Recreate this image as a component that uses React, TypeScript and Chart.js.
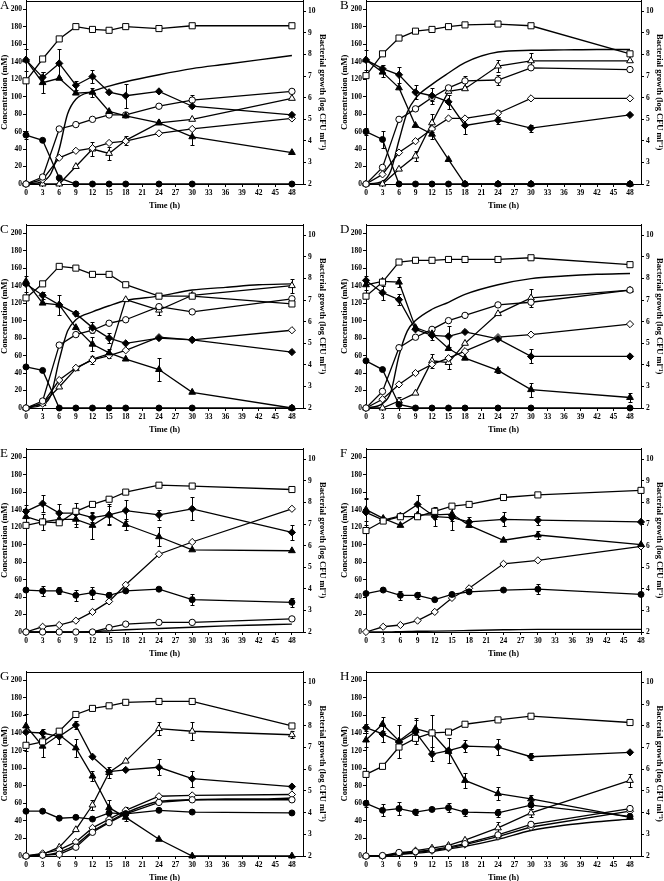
import React, { useEffect, useRef } from "react";
import { Chart, registerables } from "chart.js";
Chart.register(...registerables);

const FONT = "'Liberation Serif', 'Times New Roman', serif";

const TIME = [0, 3, 6, 9, 12, 15, 18, 24, 30, 48];
const FIT_TIME = [0, 3, 4.5, 6, 7.5, 9, 12, 15, 18, 24, 30, 36, 42, 48];
const X_TICKS = [0, 3, 6, 9, 12, 15, 18, 21, 24, 27, 30, 33, 36, 39, 42, 45, 48];
const CONC_TICKS = [0, 20, 40, 60, 80, 100, 120, 140, 160, 180, 200];
const LOG_TICKS = [2, 3, 4, 5, 6, 7, 8, 9, 10];

// ---- Panel A ----
const A_GROWTH = [6.78, 7.79, 8.72, 9.29, 9.16, 9.12, 9.29, 9.2, 9.33, 9.33];
const A_FD = [142, 122, 138, 113, 123, 105, 101, 106, 89, 79];
const A_FD_ERR = [13, 6, 16, 5, 7, 0, 14, 0, 0, 0];
const A_FT = [142, 116, 121, 104, 105, 83, 78, 70, 54, 36];
const A_FT_ERR = [0, 12, 0, 0, 5, 0, 0, 0, 9, 0];
const A_FC = [56, 50, 7, 0, 0, 0, 0, 0, 0, 0];
const A_FC_ERR = [5, 0, 0, 0, 0, 0, 0, 0, 0, 0];
const A_OC = [0, 8, 63, 68, 74, 79, 79, 89, 96, 106];
const A_OC_ERR = [0, 0, 0, 0, 0, 0, 0, 0, 6, 0];
const A_OD = [0, 5, 30, 38, 41, 47, 49, 58, 63, 75];
const A_OT = [0, 0, 0, 20, 40, 35, 50, 70, 74, 98];
const A_OT_ERR = [0, 0, 0, 0, 8, 7, 5, 0, 0, 0];
const A_FIT = [0, 3, 12, 40, 80, 97, 106, 112, 117, 125, 132, 137, 142, 147];

// ---- Panel B ----
const B_GROWTH = [7.02, 8.03, 8.76, 9.08, 9.16, 9.29, 9.37, 9.41, 9.33, 8.03];
const B_FD = [142, 132, 125, 105, 101, 94, 67, 73, 64, 79];
const B_FD_ERR = [11, 4, 9, 8, 9, 8, 10, 4, 4, 0];
const B_FT = [142, 128, 110, 67, 57, 28, 0, 0, 0, 0];
const B_FT_ERR = [0, 5, 0, 0, 6, 0, 0, 0, 0, 0];
const B_FC = [60, 51, 0, 0, 0, 0, 0, 0, 0, 0];
const B_FC_ERR = [4, 10, 0, 0, 0, 0, 0, 0, 0, 0];
const B_OC = [0, 19, 74, 86, 99, 110, 118, 119, 133, 131];
const B_OC_ERR = [0, 0, 0, 0, 4, 0, 6, 6, 0, 0];
const B_OD = [0, 11, 36, 49, 63, 75, 75, 81, 98, 98];
const B_OD_ERR = [0, 0, 0, 0, 0, 0, 0, 4, 0, 0];
const B_OT = [0, 0, 17, 32, 70, 106, 109, 135, 141, 141];
const B_OT_ERR = [0, 0, 0, 6, 10, 0, 0, 7, 9, 0];
const B_FIT = [0, 3, 15, 50, 82, 98, 114, 127, 139, 151, 153, 153.5, 154, 154];

// ---- Panel C ----
const C_GROWTH = [7.1, 7.75, 8.56, 8.48, 8.19, 8.19, 7.71, 7.18, 7.18, 6.82];
const C_FD = [142, 129, 118, 108, 92, 80, 74, 80, 78, 64];
const C_FD_ERR = [9, 4, 11, 3, 6, 6, 0, 0, 0, 0];
const C_FT = [145, 120, 118, 92, 73, 63, 56, 44, 18, 0];
const C_FT_ERR = [0, 0, 0, 0, 8, 0, 0, 13, 0, 0];
const C_FC = [47, 43, 0, 0, 0, 0, 0, 0, 0, 0];
const C_OC = [0, 8, 72, 84, 89, 97, 101, 116, 110, 125];
const C_OD = [0, 5, 32, 46, 55, 60, 66, 81, 78, 89];
const C_OD_ERR = [0, 0, 0, 0, 5, 0, 0, 0, 0, 0];
const C_OT = [0, 5, 24, 45, 56, 62, 124, 112, 129, 140];
const C_OT_ERR = [0, 0, 0, 0, 0, 5, 0, 5, 0, 8];
const C_FIT = [0, 4, 15, 55, 88, 101, 110, 117, 123, 128, 135, 138, 141, 142];

// ---- Panel D ----
const D_GROWTH = [7.18, 7.83, 8.76, 8.84, 8.84, 8.88, 8.88, 8.88, 8.96, 8.64];
const D_FD = [146, 132, 124, 90, 83, 82, 87, 79, 59, 59];
const D_FD_ERR = [5, 8, 6, 0, 5, 12, 0, 0, 8, 0];
const D_FT = [141, 145, 144, 92, 85, 68, 57, 43, 21, 12];
const D_FT_ERR = [6, 0, 6, 0, 0, 0, 0, 3, 8, 5];
const D_FC = [54, 44, 4, 0, 0, 0, 0, 0, 0, 0];
const D_OC = [0, 19, 69, 81, 90, 100, 106, 118, 121, 135];
const D_OD = [0, 10, 27, 40, 50, 57, 65, 81, 84, 96];
const D_OT = [0, 0, 8, 17, 54, 52, 74, 108, 126, 135];
const D_OT_ERR = [0, 0, 5, 0, 8, 7, 0, 0, 10, 0];
const D_FIT = [0, 5, 18, 60, 88, 100, 113, 121, 130, 141, 148, 151, 153, 154];

// ---- Panel E ----
const E_GROWTH = [6.94, 7.1, 7.06, 7.59, 7.91, 8.15, 8.48, 8.8, 8.76, 8.6];
const E_FD = [138, 147, 136, 136, 131, 134, 139, 134, 141, 114];
const E_FD_ERR = [7, 10, 10, 12, 5, 10, 12, 6, 13, 9];
const E_FT = [132, 126, 129, 129, 122, 134, 123, 109, 94, 93];
const E_FT_ERR = [6, 9, 0, 9, 15, 12, 6, 11, 0, 0];
const E_FC = [48, 47, 47, 42, 45, 42, 47, 49, 37, 34];
const E_FC_ERR = [0, 6, 4, 6, 7, 4, 0, 0, 6, 5];
const E_OC = [0, 0, 0, 0, 0, 5, 9, 11, 11, 15];
const E_OD = [0, 6, 8, 13, 23, 35, 54, 89, 103, 141];
const E_FIT = [0, 0, 0, 0, 0, 0, 0.5, 1.5, 2.5, 4, 5.5, 7, 8, 9];

// ---- Panel F ----
const F_GROWTH = [6.7, 7.14, 7.34, 7.34, 7.59, 7.83, 7.91, 8.23, 8.35, 8.56];
const F_FD = [137, 128, 133, 146, 132, 131, 126, 129, 128, 126];
const F_FD_ERR = [15, 3, 3, 11, 11, 14, 6, 8, 5, 0];
const F_FT = [140, 130, 122, 134, 134, 135, 122, 105, 111, 100];
const F_FT_ERR = [13, 0, 0, 0, 5, 8, 0, 0, 5, 0];
const F_FC = [44, 48, 42, 42, 37, 43, 46, 48, 49, 43];
const F_FC_ERR = [0, 0, 5, 4, 0, 0, 0, 0, 6, 0];
const F_OD = [0, 6, 8, 13, 23, 39, 50, 78, 82, 98];
const F_FIT = [0, 0, 0.2, 0.4, 0.6, 0.8, 1, 1.3, 1.7, 2.5, 3, 3, 3, 3];

// ---- Panel G ----
const G_GROWTH = [7.1, 7.26, 7.75, 8.52, 8.8, 8.92, 9.08, 9.12, 9.12, 7.99];
const G_FD = [141, 140, 136, 149, 113, 96, 98, 101, 88, 79];
const G_FD_ERR = [21, 5, 9, 5, 0, 0, 0, 9, 9, 0];
const G_FT = [148, 125, 138, 123, 91, 55, 44, 19, 0, 0];
const G_FT_ERR = [0, 12, 0, 10, 6, 9, 0, 0, 0, 0];
const G_FC = [51, 51, 43, 44, 42, 49, 48, 52, 50, 49];
const G_OC = [0, 1, 2, 10, 27, 38, 48, 61, 64, 64];
const G_OC_ERR = [0, 0, 0, 0, 0, 0, 8, 0, 0, 0];
const G_OD = [0, 3, 7, 16, 32, 42, 52, 68, 69, 70];
const G_OT = [0, 2, 10, 30, 58, 95, 108, 145, 142, 138];
const G_OT_ERR = [0, 0, 0, 0, 6, 6, 0, 7, 10, 4];
const G_FIT = [0, 1, 2, 4, 8, 13, 28, 39, 49, 62, 64, 65, 65, 66];

// ---- Panel H ----
const H_GROWTH = [5.76, 6.13, 7.02, 7.42, 7.67, 7.71, 8.07, 8.27, 8.44, 8.15];
const H_FD = [146, 139, 130, 141, 116, 120, 125, 124, 113, 118];
const H_FD_ERR = [4, 9, 19, 14, 8, 14, 7, 9, 4, 0];
const H_FT = [132, 150, 131, 145, 140, 119, 86, 71, 65, 44];
const H_FT_ERR = [8, 8, 0, 12, 20, 0, 9, 7, 4, 0];
const H_FC = [60, 52, 54, 50, 53, 55, 50, 49, 58, 45];
const H_FC_ERR = [4, 7, 7, 3, 0, 5, 4, 5, 5, 0];
const H_OC = [0, 0.5, 4, 5, 7, 10, 14, 24, 36, 54];
const H_OD = [0, 0, 3, 4, 6, 9, 13, 22, 33, 51];
const H_OT = [0, 0, 2, 6, 9, 12, 18, 32, 49, 86];
const H_OT_ERR = [0, 0, 0, 0, 0, 0, 0, 7, 5, 7];
const H_FIT = [0, 0, 1, 2, 2.5, 3, 5, 8, 11, 19, 29, 35, 39, 42];

// layout (page pixels of each plot frame)
const LEFT_COL = { L: 26, R: 303, rw: 24 };
const RIGHT_COL = { L: 366, R: 641, rw: 23 };
const ROWS = [
  { T: 0, B: 184 },
  { T: 224, B: 408 },
  { T: 448, B: 632 },
  { T: 671, B: 856 },
];

type PanelDef = {
  letter: string;
  col: typeof LEFT_COL;
  row: { T: number; B: number };
  xMax: number;
  growth: number[];
  fd?: number[]; fdErr?: number[];
  ft?: number[]; ftErr?: number[];
  fc?: number[]; fcErr?: number[];
  oc?: number[]; ocErr?: number[];
  od?: number[]; odErr?: number[];
  ot?: number[]; otErr?: number[];
  fit: number[];
};

const PANELS: PanelDef[] = [
  { letter: "A", col: LEFT_COL, row: ROWS[0], xMax: 50, growth: A_GROWTH, fd: A_FD, fdErr: A_FD_ERR, ft: A_FT, ftErr: A_FT_ERR, fc: A_FC, fcErr: A_FC_ERR, oc: A_OC, ocErr: A_OC_ERR, od: A_OD, ot: A_OT, otErr: A_OT_ERR, fit: A_FIT },
  { letter: "B", col: RIGHT_COL, row: ROWS[0], xMax: 50, growth: B_GROWTH, fd: B_FD, fdErr: B_FD_ERR, ft: B_FT, ftErr: B_FT_ERR, fc: B_FC, fcErr: B_FC_ERR, oc: B_OC, ocErr: B_OC_ERR, od: B_OD, odErr: B_OD_ERR, ot: B_OT, otErr: B_OT_ERR, fit: B_FIT },
  { letter: "C", col: LEFT_COL, row: ROWS[1], xMax: 50, growth: C_GROWTH, fd: C_FD, fdErr: C_FD_ERR, ft: C_FT, ftErr: C_FT_ERR, fc: C_FC, oc: C_OC, od: C_OD, odErr: C_OD_ERR, ot: C_OT, otErr: C_OT_ERR, fit: C_FIT },
  { letter: "D", col: RIGHT_COL, row: ROWS[1], xMax: 50, growth: D_GROWTH, fd: D_FD, fdErr: D_FD_ERR, ft: D_FT, ftErr: D_FT_ERR, fc: D_FC, oc: D_OC, od: D_OD, ot: D_OT, otErr: D_OT_ERR, fit: D_FIT },
  { letter: "E", col: LEFT_COL, row: ROWS[2], xMax: 50, growth: E_GROWTH, fd: E_FD, fdErr: E_FD_ERR, ft: E_FT, ftErr: E_FT_ERR, fc: E_FC, fcErr: E_FC_ERR, oc: E_OC, od: E_OD, fit: E_FIT },
  { letter: "F", col: RIGHT_COL, row: ROWS[2], xMax: 48, growth: F_GROWTH, fd: F_FD, fdErr: F_FD_ERR, ft: F_FT, ftErr: F_FT_ERR, fc: F_FC, fcErr: F_FC_ERR, od: F_OD, fit: F_FIT },
  { letter: "G", col: LEFT_COL, row: ROWS[3], xMax: 50, growth: G_GROWTH, fd: G_FD, fdErr: G_FD_ERR, ft: G_FT, ftErr: G_FT_ERR, fc: G_FC, oc: G_OC, ocErr: G_OC_ERR, od: G_OD, ot: G_OT, otErr: G_OT_ERR, fit: G_FIT },
  { letter: "H", col: RIGHT_COL, row: ROWS[3], xMax: 50, growth: H_GROWTH, fd: H_FD, fdErr: H_FD_ERR, ft: H_FT, ftErr: H_FT_ERR, fc: H_FC, fcErr: H_FC_ERR, oc: H_OC, od: H_OD, ot: H_OT, otErr: H_OT_ERR, fit: H_FIT },
];

const STYLES: Record<string, { style: string; r: number; fill: string }> = {
  growth: { style: "rect", r: 4.3, fill: "#fff" },
  fd: { style: "rectRot", r: 3.6, fill: "#000" },
  ft: { style: "triangle", r: 3.9, fill: "#000" },
  fc: { style: "circle", r: 3, fill: "#000" },
  oc: { style: "circle", r: 3.2, fill: "#fff" },
  od: { style: "rectRot", r: 3.6, fill: "#fff" },
  ot: { style: "triangle", r: 3.9, fill: "#fff" },
};

const errorBarPlugin = {
  id: "errorBars",
  beforeDatasetsDraw(chart: any) {
    const ctx = chart.ctx;
    const xs = chart.scales.x;
    chart.data.datasets.forEach((ds: any) => {
      if (!ds.errors) return;
      const ys = chart.scales[ds.yAxisID || "y"];
      ctx.save();
      ctx.strokeStyle = "#000";
      ctx.lineWidth = 1;
      ds.data.forEach((pt: any, i: number) => {
        const e = ds.errors[i];
        if (!e) return;
        const x = Math.round(xs.getPixelForValue(pt.x)) + 0.5;
        const y1 = Math.round(ys.getPixelForValue(pt.y + e)) + 0.5;
        const y2 = Math.round(ys.getPixelForValue(Math.max(pt.y - e, 0))) + 0.5;
        ctx.beginPath();
        ctx.moveTo(x, y1);
        ctx.lineTo(x, y2);
        ctx.moveTo(x - 2, y1);
        ctx.lineTo(x + 2, y1);
        ctx.moveTo(x - 2, y2);
        ctx.lineTo(x + 2, y2);
        ctx.stroke();
      });
      ctx.restore();
    });
  },
};

const framePlugin = {
  id: "frame",
  afterDraw(chart: any) {
    const { ctx, chartArea } = chart;
    ctx.save();
    ctx.strokeStyle = "#000";
    ctx.lineWidth = 1;
    ctx.beginPath();
    const y = Math.round(chartArea.top) + 0.5;
    ctx.moveTo(chartArea.left, y);
    ctx.lineTo(chartArea.right, y);
    ctx.stroke();
    ctx.fillStyle = "#000";
    ctx.font = `13px ${FONT}`;
    ctx.textBaseline = "top";
    ctx.textAlign = "left";
    ctx.fillText(chart.options.plugins.panelLetter, chartArea.left - 26, chartArea.top - 1);
    ctx.restore();
  },
};

const TOP_PAD = 6;
const X_HEIGHT = 27;
const Y_WIDTH = 26;

function Panel({ p }: { p: PanelDef }) {
  const ref = useRef<HTMLCanvasElement>(null);
  const { L, R, rw } = p.col;
  const { T, B } = p.row;
  const w = R - L + Y_WIDTH + rw;
  const h = B - T + TOP_PAD + X_HEIGHT;

  useEffect(() => {
    const datasets: any[] = [];
    const add = (key: string, vals?: number[], errs?: number[]) => {
      if (!vals) return;
      const s = STYLES[key];
      datasets.push({
        data: TIME.map((t, i) => ({ x: t, y: vals[i] })),
        yAxisID: key === "growth" ? "y1" : "y",
        borderColor: "#000",
        borderWidth: 1.3,
        pointStyle: s.style,
        pointRadius: s.r,
        pointBackgroundColor: s.fill,
        pointBorderColor: "#000",
        pointBorderWidth: 1,
        tension: 0,
        clip: false,
        errors: errs,
      });
    };
    add("growth", p.growth);
    add("fd", p.fd, p.fdErr);
    add("ft", p.ft, p.ftErr);
    add("fc", p.fc, p.fcErr);
    add("oc", p.oc, p.ocErr);
    add("od", p.od, p.odErr);
    add("ot", p.ot, p.otErr);
    datasets.push({
      data: FIT_TIME.map((t, i) => ({ x: t, y: p.fit[i] })),
      yAxisID: "y",
      borderColor: "#000",
      borderWidth: 1.4,
      pointRadius: 0,
      cubicInterpolationMode: "monotone",
      clip: false,
    });

    const tickFont = { family: FONT, size: 7.5, weight: "bold" as const };
    const titleFont = { family: FONT, size: 8.5, weight: "bold" as const };
    const grid = { display: true, drawOnChartArea: false, drawTicks: true, tickLength: 3, color: "#000", lineWidth: 1 };
    const border = { display: true, color: "#000", width: 1 };

    const chart = new Chart(ref.current as HTMLCanvasElement, {
      type: "line",
      data: { datasets },
      options: {
        responsive: false,
        maintainAspectRatio: false,
        animation: false,
        devicePixelRatio: 1,
        layout: { padding: { top: TOP_PAD, left: 0, right: 0, bottom: 0 } },
        plugins: { legend: { display: false }, tooltip: { enabled: false }, panelLetter: p.letter } as any,
        scales: {
          x: {
            type: "linear",
            min: 0,
            max: p.xMax,
            afterBuildTicks: (s: any) => { s.ticks = X_TICKS.map((v) => ({ value: v })); },
            afterFit: (s: any) => { s.height = X_HEIGHT; },
            grid, border,
            ticks: { font: tickFont, color: "#000", padding: 2, maxRotation: 0, autoSkip: false },
            title: { display: true, text: "Time (h)", font: titleFont, color: "#000", padding: 0 },
          },
          y: {
            position: "left",
            min: 0,
            max: 210,
            afterBuildTicks: (s: any) => { s.ticks = CONC_TICKS.map((v) => ({ value: v })); },
            afterFit: (s: any) => { s.width = Y_WIDTH; },
            grid, border,
            ticks: { font: tickFont, color: "#000", padding: 1 },
            title: { display: true, text: "Concentration (mM)", font: titleFont, color: "#000", padding: 0 },
          },
          y1: {
            position: "right",
            min: 2,
            max: 10.5,
            afterBuildTicks: (s: any) => { s.ticks = LOG_TICKS.map((v) => ({ value: v })); },
            afterFit: (s: any) => { s.width = rw; },
            grid, border,
            ticks: { font: tickFont, color: "#000", padding: 2 },
            title: { display: true, text: "Bacterial growth (log CFU ml\u207B\u00B9)", font: titleFont, color: "#000", padding: 0 },
          },
        },
      } as any,
      plugins: [errorBarPlugin, framePlugin],
    });
    return () => chart.destroy();
  }, []);

  return (
    <canvas
      ref={ref}
      width={w}
      height={h}
      style={{ position: "absolute", left: L - Y_WIDTH, top: T - TOP_PAD, width: w, height: h }}
    />
  );
}

export default function App() {
  return (
    <div style={{ position: "absolute", left: 0, top: 0, width: 664, height: 881, overflow: "hidden", background: "#fff" }}>
      {PANELS.map((p) => (
        <Panel key={p.letter} p={p} />
      ))}
    </div>
  );
}
